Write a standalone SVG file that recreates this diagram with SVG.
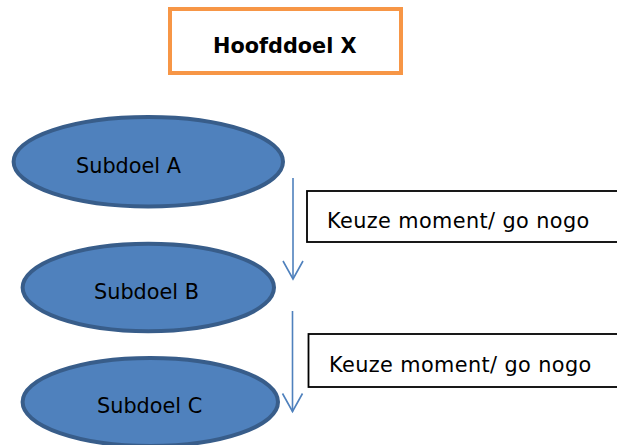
<svg xmlns="http://www.w3.org/2000/svg" width="617" height="445" viewBox="0 0 617 445">
<style>
.t{font-family:"DejaVu Sans",Verdana,sans-serif;font-size:20.8px;fill:#000}
.b{font-weight:bold}
.k{letter-spacing:0.4px}
.ell{fill:#4f81bd;stroke:#385d8a;stroke-width:4}
.box{fill:#fff;stroke:#000;stroke-width:1.8}
.con{stroke:#4f81bd;stroke-width:1.6;fill:none}
</style>
<defs>
<marker id="arr" markerWidth="24" markerHeight="24" refX="20" refY="11" orient="auto" markerUnits="userSpaceOnUse">
<path d="M2,1 L20,11 L2,21" fill="none" stroke="#4f81bd" stroke-width="1.6"/>
</marker>
</defs>
<rect width="617" height="445" fill="#fff"/>
<g id="hoofddoel">
<rect x="170" y="9" width="231" height="64" fill="#fff" stroke="#f79646" stroke-width="4"/>
<text class="t b" x="213" y="53">Hoofddoel X</text>
</g>
<g id="subdoelA">
<ellipse class="ell" cx="148.3" cy="161.7" rx="134.7" ry="44.7"/>
<text class="t" x="76" y="173">Subdoel A</text>
</g>
<g id="subdoelB">
<ellipse class="ell" cx="148.3" cy="287.5" rx="125.7" ry="43.8"/>
<text class="t" x="94" y="299">Subdoel B</text>
</g>
<g id="subdoelC">
<ellipse class="ell" cx="150.3" cy="402" rx="127.7" ry="44"/>
<text class="t" x="97" y="413">Subdoel C</text>
</g>
<g id="keuze1">
<rect class="box" x="307" y="191" width="315" height="51"/>
<text class="t k" x="327" y="228">Keuze moment/ go nogo</text>
</g>
<g id="keuze2">
<rect class="box" x="308.5" y="334" width="315" height="53"/>
<text class="t k" x="329" y="372">Keuze moment/ go nogo</text>
</g>
<g id="connectors">
<line class="con" x1="293" y1="178" x2="293" y2="279" marker-end="url(#arr)"/>
<line class="con" x1="292.5" y1="311" x2="292.5" y2="411.5" marker-end="url(#arr)"/>
</g>
</svg>
